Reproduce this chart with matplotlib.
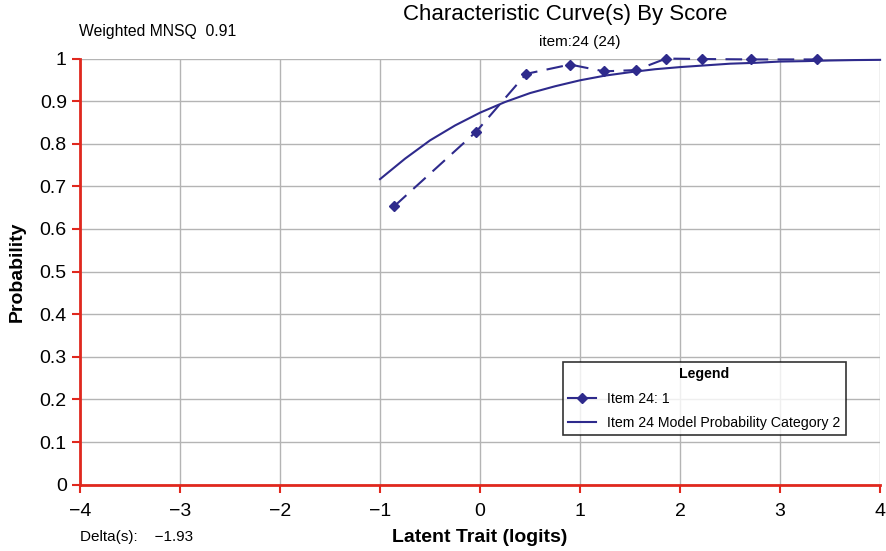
import matplotlib
matplotlib.use('Agg')
import matplotlib.pyplot as plt
from matplotlib.lines import Line2D

plt.rcParams['font.family'] = ['Liberation Sans', 'DejaVu Sans']

# observed proportions (item 24, score 1)
obs_x = [-0.86, -0.04, 0.46, 0.90, 1.24, 1.56, 1.86, 2.22, 2.71, 3.37]
obs_y = [0.653, 0.828, 0.964, 0.986, 0.970, 0.973, 1.000, 0.999, 0.998, 0.998]

# model probability category 2
mod_x = [-1.0, -0.75, -0.5, -0.25, 0.0, 0.25, 0.5, 0.75, 1.0, 1.25, 1.5, 1.75,
         2.0, 2.25, 2.5, 2.75, 3.0, 3.25, 3.5, 3.75, 4.0]
mod_y = [0.717, 0.765, 0.808, 0.843, 0.873, 0.898, 0.919, 0.935, 0.949, 0.960,
         0.968, 0.975, 0.980, 0.984, 0.988, 0.990, 0.993, 0.994, 0.9955, 0.9965, 0.997]

xticks = [-4, -3, -2, -1, 0, 1, 2, 3, 4]
yticks = [0, 0.1, 0.2, 0.3, 0.4, 0.5, 0.6, 0.7, 0.8, 0.9, 1]
ylabels = ['0', '0.1', '0.2', '0.3', '0.4', '0.5', '0.6', '0.7', '0.8', '0.9', '1']

col = '#2e2a8c'
red = '#e0281e'

fig = plt.figure(figsize=(8.87, 5.51), dpi=100)
ax = fig.add_axes([0.0902, 0.1205, 0.902, 0.7732])

ax.plot(obs_x, obs_y, color=col, lw=1.5, dashes=(8, 4.5), marker='D', ms=5.5,
        zorder=3, clip_on=False)
ax.plot(mod_x, mod_y, color=col, lw=1.5, zorder=3, clip_on=False)

ax.set_xlim(-4, 4)
ax.set_ylim(0, 1)
ax.set_xticks(xticks)
ax.set_yticks(yticks)
ax.set_yticklabels(ylabels)
ax.grid(True, color='#b4b4b4', lw=1)
ax.set_axisbelow(True)

for s in ['top', 'right']:
    ax.spines[s].set_visible(False)
for s in ['left', 'bottom']:
    ax.spines[s].set_color(red)
    ax.spines[s].set_linewidth(2)
ax.tick_params(colors=red, labelcolor='black', labelsize=14, width=1.5, length=6)
ax.tick_params(axis='x', pad=7)

ax.set_xlabel('Latent Trait (logits)', fontsize=14, fontweight='bold', labelpad=7)
ax.set_ylabel('Probability', fontsize=14, fontweight='bold', labelpad=10)

fig.text(0.637, 0.974, 'Characteristic Curve(s) By Score', fontsize=16,
         ha='center', va='center')
fig.text(0.654, 0.924, 'item:24 (24)', fontsize=11, ha='center', va='center')
fig.text(0.089, 0.942, 'Weighted MNSQ  0.91', fontsize=11.3, va='center')
fig.text(0.090, 0.025, 'Delta(s):    \u22121.93', fontsize=11, va='center')

handles = [Line2D([], [], color=col, lw=1.5, marker='D', ms=5.5),
           Line2D([], [], color=col, lw=1.5)]
leg = ax.legend(handles, ['Item 24: 1', 'Item 24 Model Probability Category 2'],
                title='Legend', loc='lower left',
                bbox_to_anchor=(0.6035, 0.116), fontsize=10.2, frameon=True,
                fancybox=False, edgecolor='black', handlelength=2.0,
                borderaxespad=0, labelspacing=0.75, handletextpad=0.8,
                borderpad=0.35)
leg.get_title().set_fontweight('bold')
leg.get_title().set_fontsize(10.2)
leg.get_frame().set_linewidth(1.2)

fig.savefig('out.png', dpi=100)
